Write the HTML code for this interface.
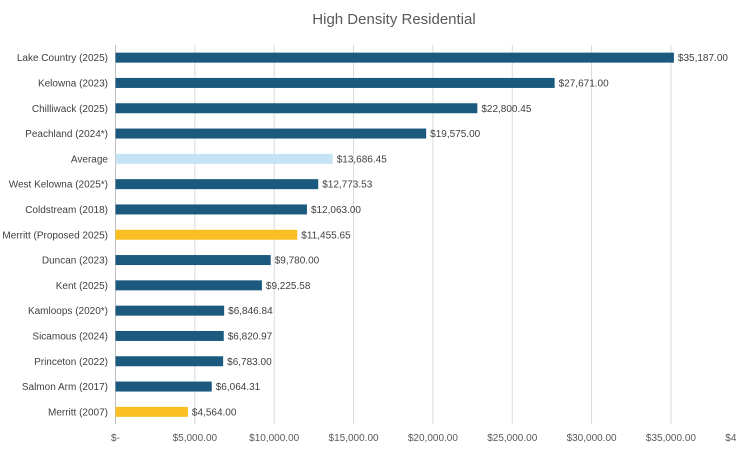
<!DOCTYPE html>
<html><head><meta charset="utf-8"><style>
body{margin:0;background:#fff;font-family:"Liberation Sans",sans-serif;}
svg text{font-family:"Liberation Sans",sans-serif;}
</style></head><body>
<svg id="c" width="736" height="454">
<rect width="736" height="454" fill="#fff"/>
<text x="394" y="24" text-anchor="middle" font-size="15" fill="#595959">High Density Residential</text>
<g id="grid"></g><g id="bars"></g>
</svg>
<script>
const categories=["Lake Country (2025)","Kelowna (2023)","Chilliwack (2025)","Peachland (2024*)","Average","West Kelowna (2025*)","Coldstream (2018)","Merritt (Proposed 2025)","Duncan (2023)","Kent (2025)","Kamloops (2020*)","Sicamous (2024)","Princeton (2022)","Salmon Arm (2017)","Merritt (2007)"];
const values=[35187,27671,22800.45,19575,13686.45,12773.53,12063,11455.65,9780,9225.58,6846.84,6820.97,6783,6064.31,4564];
const kinds=["city","city","city","city","avg","city","city","merritt","city","city","city","city","city","city","merritt"];
const ticks=[0,5000,10000,15000,20000,25000,30000,35000,40000];
const NS="http://www.w3.org/2000/svg";
const x0=115.5,pxPer=0.01587,plotTop=45,step=25.3;
const X=v=>x0+v*pxPer, Y=i=>plotTop+step*i+step/2;
const colors={city:"#1b5a7e",avg:"#c5e3f4",merritt:"#fbbf24"};
const fmt=v=>"$"+v.toLocaleString("en-US",{minimumFractionDigits:2,maximumFractionDigits:2});
function mk(t,a,p){const e=document.createElementNS(NS,t);for(const k in a)e.setAttribute(k,a[k]);p.appendChild(e);return e;}
const g=document.getElementById('grid'),b=document.getElementById('bars');
ticks.forEach(t=>{
 const l=mk('line',{x1:X(t),x2:X(t),y1:plotTop,y2:424,stroke:t===0?'#bfbfbf':'#d9d9d9','stroke-width':1},g);
 
 
 const tx=mk('text',{x:X(t),y:441,'text-anchor':'middle','font-size':10,fill:'#595959'},g);
 tx.textContent=t===0?"$-":fmt(t);
 
 
});
categories.forEach((c,i)=>{
 const lb=mk('text',{x:108,y:Y(i)+3.5,'text-anchor':'end','font-size':10,fill:'#404040'},b);
 lb.textContent=c;
 
 
 const r=mk('rect',{x:x0,y:Y(i)-5,width:X(values[i])-x0,height:10,fill:colors[kinds[i]]},b);
 
 
 const v=mk('text',{x:X(values[i])+4,y:Y(i)+3.5,'font-size':10,fill:'#404040'},b);
 v.textContent=fmt(values[i]);
 
 
});
</script>
</body></html>
